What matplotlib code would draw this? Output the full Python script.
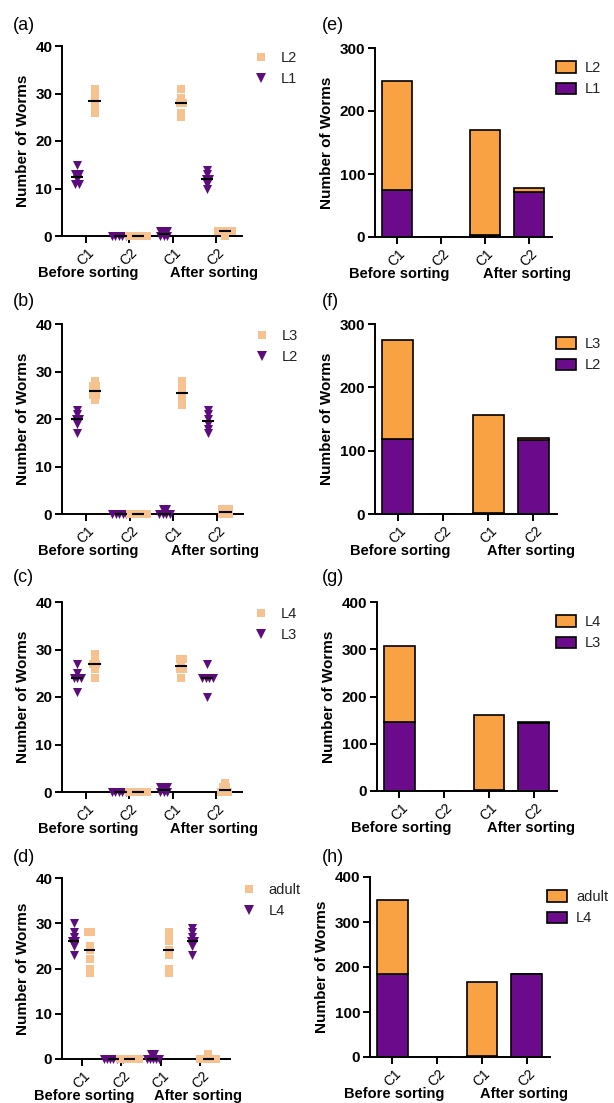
import numpy as np
import matplotlib.pyplot as plt
from matplotlib.lines import Line2D
from matplotlib.patches import Patch

plt.rcParams["font.family"] = ["Liberation Sans", "DejaVu Sans"]

categories = ["C1", "C2", "C1", "C2"]
young_stage = ["L1", "L2", "L3", "L4"]
old_stage = ["L2", "L3", "L4", "adult"]

# replicate counts per category (before C1, before C2, after C1, after C2)
a_young = [[15, 13, 13, 12, 11, 11], [0, 0, 0, 0, 0, 0], [1, 1, 0, 0, 1, 0], [14, 13, 12, 12, 11, 10]]
a_old = [[31, 30, 29, 28, 27, 26], [0, 0, 0, 0, 0, 0], [31, 29, 28, 28, 26, 25], [1, 1, 1, 1, 1, 0]]
b_young = [[22, 21, 20, 20, 19, 17], [0, 0, 0, 0, 0, 0], [1, 0, 1, 0, 0, 0], [22, 21, 20, 19, 18, 17]]
b_old = [[28, 27, 27, 25, 25, 24], [0, 0, 0, 0, 0, 0], [28, 27, 26, 25, 24, 23], [1, 1, 0, 1, 0, 0]]
c_young = [[27, 25, 24, 24, 24, 21], [0, 0, 0, 0, 0, 0], [1, 1, 1, 0, 0, 0], [27, 24, 24, 24, 24, 20]]
c_old = [[29, 28, 27, 27, 26, 24], [0, 0, 0, 0, 0, 0], [28, 28, 27, 26, 26, 24], [2, 1, 1, 0, 0, 0]]
d_young = [[30, 28, 27, 26, 26, 25, 23], [0, 0, 0, 0, 0, 0, 0], [1, 1, 0, 0, 0, 0, 0], [29, 28, 27, 26, 26, 25, 23]]
d_old = [[28, 28, 25, 24, 22, 20, 19], [0, 0, 0, 0, 0, 0, 0], [28, 27, 26, 24, 23, 20, 19], [1, 0, 0, 0, 0, 0, 0]]

# totals per category for the stacked bars
e_young = [74, 0, 3, 72]
e_old = [173, 0, 167, 5]
f_young = [119, 0, 2, 117]
f_old = [156, 0, 155, 3]
g_young = [145, 0, 2, 143]
g_old = [161, 0, 159, 4]
h_young = [185, 0, 2, 184]
h_old = [165, 0, 165, 1]

W, H = 614, 1103
pt_orange = "#F5C290"
pt_purple = "#5C0C7C"
bar_orange = "#F9A244"
bar_purple = "#6C0A8C"


def px_rect(l, t, r, b):
    return [l / W, 1 - b / H, (r - l) / W, (b - t) / H]


def swarm(vals, step=0.08):
    vals = np.asarray(vals)
    offs = np.zeros(len(vals))
    for v in np.unique(vals):
        idx = np.where(vals == v)[0]
        offs[idx] = (np.arange(len(idx)) - (len(idx) - 1) / 2) * step
    return offs


def style_axes(ax, xlim, ymax, ystep):
    ax.set_xlim(*xlim)
    ax.set_ylim(0, ymax)
    ax.set_yticks(np.arange(0, ymax + 1, ystep))
    ax.set_xticks(range(len(categories)))
    ax.set_xticklabels(categories, rotation=45, fontsize=10)
    for lab in ax.get_yticklabels():
        lab.set_fontweight("bold")
        lab.set_fontsize(11)
    ax.spines["top"].set_visible(False)
    ax.spines["right"].set_visible(False)
    ax.spines["left"].set_linewidth(1.4)
    ax.spines["bottom"].set_linewidth(1.4)
    ax.tick_params(direction="out", length=5, width=1.4, pad=2)
    ax.set_ylabel("Number of Worms", fontsize=11, fontweight="bold", labelpad=4)
    for x, name in ((0.05, "Before sorting"), (2.95, "After sorting")):
        ax.annotate(name, (x, 0), xycoords=("data", "axes fraction"),
                    xytext=(0, -37), textcoords="offset pixels",
                    ha="center", va="center", fontsize=10.5, fontweight="bold")


def legend_at(ax, handles, labels, x, y, **kw):
    ax.legend(handles, labels, loc="upper left", bbox_to_anchor=(x / W, 1 - y / H),
              bbox_transform=fig.transFigure, frameon=False, borderpad=0,
              borderaxespad=0, fontsize=10.5, labelcolor="#222222",
              labelspacing=0.5, handletextpad=0.6, **kw)


fig = plt.figure(figsize=(W / 100, H / 100), dpi=100)

scatter_panels = [
    ("(a)", a_young, a_old, 0, (62, 46, 242, 236), (-0.55, 3.6), 25),
    ("(b)", b_young, b_old, 1, (62, 324, 243, 514), (-0.55, 3.6), 301),
    ("(c)", c_young, c_old, 2, (62, 602, 242, 792), (-0.55, 3.6), 577),
    ("(d)", d_young, d_old, 3, (62, 878, 230, 1059), (-0.5, 3.75), 858),
]
for tag, young, old, k, rect, xlim, ty in scatter_panels:
    ax = fig.add_axes(px_rect(*rect))
    for i, (yv, ov) in enumerate(zip(young, old)):
        for vals, shift, color, marker, size in ((yv, -0.2, pt_purple, "v", 42),
                                                 (ov, 0.2, pt_orange, "s", 28)):
            xs = i + shift + swarm(vals)
            ax.scatter(xs, vals, marker=marker, s=size, color=color,
                       linewidths=0, clip_on=False, zorder=3)
            ax.hlines(np.median(vals), i + shift - 0.14, i + shift + 0.14,
                      color="black", lw=1.5, zorder=4, clip_on=False)
    style_axes(ax, xlim, 40, 10)
    handles = [Line2D([], [], ls="none", marker="s", ms=6, color=pt_orange, mew=0),
               Line2D([], [], ls="none", marker="v", ms=7.5, color=pt_purple, mew=0)]
    legend_at(ax, handles, [old_stage[k], young_stage[k]], rect[2] + 8, rect[1] + 5,
              handlelength=1.5)
    fig.text(13 / W, 1 - ty / H, tag, fontsize=13, va="center", ha="left")

bar_panels = [
    ("(e)", e_young, e_old, 0, (375, 48, 552, 237), 300, 25, 556),
    ("(f)", f_young, f_old, 1, (375, 324, 557, 514), 300, 301, 556),
    ("(g)", g_young, g_old, 2, (377, 602, 557, 791), 400, 577, 556),
    ("(h)", h_young, h_old, 3, (370, 877, 550, 1057), 400, 858, 547),
]
for tag, young, old, k, rect, ymax, ty, lx in bar_panels:
    ax = fig.add_axes(px_rect(*rect))
    x = np.arange(len(categories))
    ax.bar(x, young, width=0.68, color=bar_purple, edgecolor="black", lw=1.2, zorder=2)
    ax.bar(x, old, width=0.68, bottom=young, color=bar_orange, edgecolor="black", lw=1.2, zorder=2)
    style_axes(ax, (-0.5, 3.52), ymax, 100)
    handles = [Patch(facecolor=bar_orange, edgecolor="black", lw=1.2),
               Patch(facecolor=bar_purple, edgecolor="black", lw=1.2)]
    legend_at(ax, handles, [old_stage[k], young_stage[k]], lx, rect[1] + 13,
              handlelength=1.4, handleheight=0.8)
    fig.text(322 / W, 1 - ty / H, tag, fontsize=13, va="center", ha="left")

fig.savefig("out.png", dpi=100)
